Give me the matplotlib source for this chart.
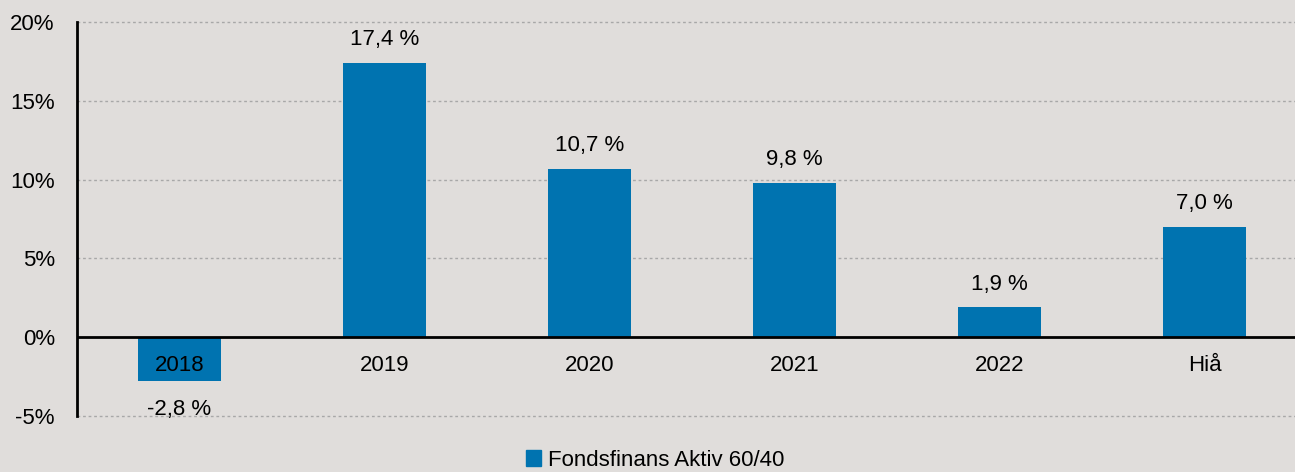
import matplotlib.pyplot as plt
import numpy as np
from matplotlib.patches import Patch

categories = ['2018', '2019', '2020', '2021', '2022', 'Hiå']
returns = [-2.8, 17.4, 10.7, 9.8, 1.9, 7.0]
series_name = 'Fondsfinans Aktiv 60/40'
yticks = [-5, 0, 5, 10, 15, 20]

bg = '#e0dddb'
bar_color = '#0073b0'

plt.rcParams['font.family'] = ['Liberation Sans', 'DejaVu Sans']
fs = 16

fig = plt.figure(figsize=(12.95, 4.72), dpi=100, facecolor=bg)
ax = fig.add_axes([77 / 1295, 1 - 416 / 472, 1230 / 1295, 394 / 472])
ax.set_facecolor(bg)

x = np.arange(len(categories))
ax.bar(x, returns, width=0.405, color=bar_color, zorder=3)

for xi, v in zip(x, returns):
    txt = f'{v:.1f} %'.replace('.', ',')
    if v >= 0:
        ax.annotate(txt, (xi, v), xytext=(0, 9), textcoords='offset points',
                    ha='center', va='bottom', fontsize=fs)
    else:
        ax.annotate(txt, (xi, v), xytext=(0, -13), textcoords='offset points',
                    ha='center', va='top', fontsize=fs)

ax.set_xlim(-0.5, len(categories) - 0.5)
ax.set_ylim(-5, 20)
ax.set_yticks(yticks)
ax.set_yticklabels([f'{t}%' for t in yticks], fontsize=fs)
ax.tick_params(axis='y', length=0, pad=16)

# category labels sit just below the zero line
ax.set_xticks([])
for xi, c in zip(x, categories):
    ax.annotate(c, (xi, 0), xytext=(0, -13), textcoords='offset points',
                ha='center', va='top', fontsize=fs, zorder=5)

for t in [-5, 5, 10, 15, 20]:
    ax.axhline(t, color='#a8a8a8', linestyle=(0, (2, 2)), linewidth=1.0,
               zorder=1, clip_on=False)
ax.axhline(0, color='black', linewidth=2, zorder=4)

for s in ['top', 'right', 'bottom']:
    ax.spines[s].set_visible(False)
ax.spines['left'].set_linewidth(2)
ax.spines['left'].set_zorder(5)

fig.legend(handles=[Patch(color=bar_color, label=series_name)],
           loc='center', bbox_to_anchor=(655 / 1295, 1 - 460 / 472),
           frameon=False, fontsize=fs, handlelength=0.7, handleheight=0.7,
           handletextpad=0.3)

fig.savefig('out.png', dpi=100, facecolor=bg)
